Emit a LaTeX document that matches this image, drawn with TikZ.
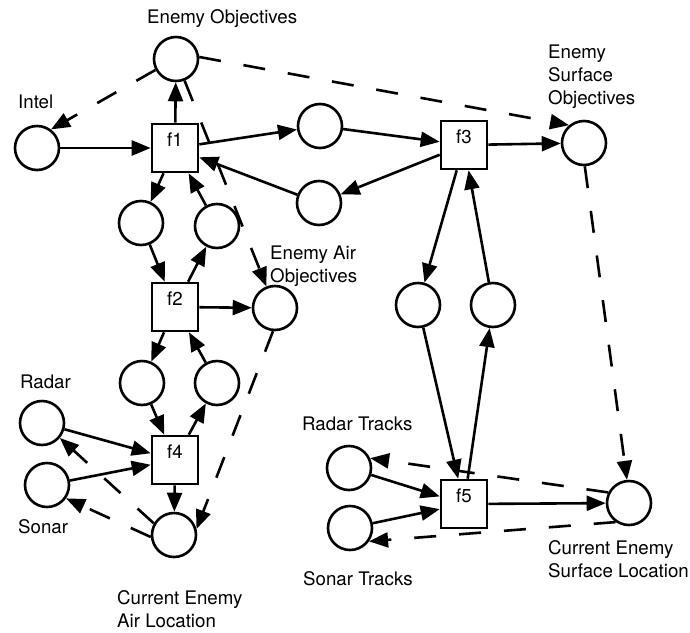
\documentclass[tikz,border=0pt]{standalone}
\usepackage{fontspec}
\setmainfont{TeX Gyre Heros}
\usetikzlibrary{arrows.meta}
\tikzset{pl/.append style={minimum size=44pt, draw, circle, inner sep=0pt, line width=2.6pt}}
\tikzset{tr/.append style={minimum width=46pt, minimum height=48pt, draw, rectangle, inner sep=0pt, line width=2.6pt, text height=13pt, text depth=16pt}}
\tikzset{ar/.append style={line width=2.6pt, -{Triangle[length=19pt,width=15pt]}}}
\tikzset{da/.append style={ar, dash pattern=on 22pt off 23pt}}
\tikzset{lb/.append style={inner sep=0pt, align=left}}

\begin{document}
\begin{tikzpicture}[x=1pt,y=-1pt,font=\fontsize{18.7}{23}\selectfont]
                \useasboundingbox (0,0) rectangle (690,632);
                % places
                \node[pl] (eo) at (176,59) {};
                \node[pl] (intel) at (37,148) {};
                \node[pl] (p1) at (320,126) {};
                \node[pl] (p2) at (319,203) {};
                \node[pl] (eso) at (584,143) {};
                \node[pl] (a1) at (141,223) {};
                \node[pl] (b1) at (217,226) {};
                \node[pl] (eao) at (275,308) {};
                \node[pl] (a2) at (142,383) {};
                \node[pl] (b2) at (217,383) {};
                \node[pl] (radar) at (42,423) {};
                \node[pl] (sonar) at (47,485) {};
                \node[pl] (ceal) at (174,535) {};
                \node[pl] (c1) at (418,305) {};
                \node[pl] (c2) at (493,305) {};
                \node[pl] (rt) at (349,468) {};
                \node[pl] (st) at (350,528) {};
                \node[pl] (cesl) at (629,503) {};
                % transitions
                \node[tr] (f1) at (175,148) {f1};
                \node[tr] (f2) at (175,307) {f2};
                \node[tr] (f3) at (464,145) {f3};
                \node[tr] (f4) at (175,460) {f4};
                \node[tr] (f5) at (464,504) {f5};
                % labels
                \node[lb,anchor=base west] (leo) at (147,23) {Enemy Objectives};
                \node[lb,anchor=base west] (lintel) at (18,108) {Intel};
                \node[lb,anchor=north west] (leso) at (548,45) {Enemy\\Surface\\Objectives};
                \node[lb,anchor=north west] (leao) at (270,246) {Enemy Air\\Objectives};
                \node[lb,anchor=base west] (lradar) at (20,388) {Radar};
                \node[lb,anchor=base west] (lsonar) at (18,533) {Sonar};
                \node[lb,anchor=north west] (lceal) at (117,590) {Current Enemy\\Air Location};
                \node[lb,anchor=base west] (lrt) at (302,430) {Radar Tracks};
                \node[lb,anchor=base west] (lst) at (303,585) {Sonar Tracks};
                \node[lb,anchor=north west] (lcesl) at (548,540) {Current Enemy\\Surface Location};
                % arcs
                \path (intel) edge[ar] (f1);
                \path (f1) edge[ar] (eo);
                \path (f1) edge[ar] (p1);
                \path (p1) edge[ar] (f3);
                \path (f3) edge[ar] (p2);
                \path (p2) edge[ar] (f1);
                \path (f3) edge[ar] (eso);
                \path (f1) edge[ar] (a1);
                \path (a1) edge[ar] (f2);
                \path (f2) edge[ar] (b1);
                \path (b1) edge[ar] (f1);
                \path (f2) edge[ar] (eao);
                \path (f2) edge[ar] (a2);
                \path (a2) edge[ar] (f4);
                \path (f4) edge[ar] (b2);
                \path (b2) edge[ar] (f2);
                \path (radar) edge[ar] (f4);
                \path (sonar) edge[ar] (f4);
                \path (f4) edge[ar] (ceal);
                \path (f3) edge[ar] (c1);
                \path (c1) edge[ar] (f5);
                \path (f5) edge[ar] (c2);
                \path (c2) edge[ar] (f3);
                \path (rt) edge[ar] (f5);
                \path (st) edge[ar] (f5);
                \path (f5) edge[ar] (cesl);
                % dashed arcs
                \path (eo.208) edge[da] (intel.53);
                \path (eo.5) edge[da] (eso.130);
                \path (eo) edge[da] (eao);
                \path (eao.265) edge[da] (ceal.15);
                \path (ceal.150) edge[da] (radar.320);
                \path (ceal.185) edge[da] (sonar.325);
                \path (eso.272) edge[da] (cesl.95);
                \path (cesl.153) edge[da] (rt.25);
                \path (cesl.235) edge[da] (st.325);
            \end{tikzpicture}
\end{document}
